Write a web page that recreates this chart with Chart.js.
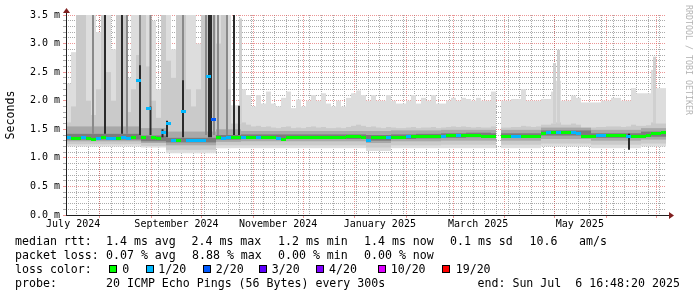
<!DOCTYPE html>
<html><head><meta charset="utf-8">
<script src="https://cdn.jsdelivr.net/npm/chart.js@4.4.1/dist/chart.umd.min.js"></script>
<style>
html,body{margin:0;padding:0;background:#fff;}
#wrap{position:relative;width:697px;height:297px;overflow:hidden;background:#fff;}
canvas{position:absolute;left:0;top:0;}
.t{position:absolute;font-family:"DejaVu Sans Mono",monospace;font-size:11.6px;line-height:14px;white-space:pre;color:#000;}
.box{position:absolute;width:6px;height:6px;border:1px solid #000;top:265px;}
#wm{position:absolute;left:693px;top:5px;transform-origin:0 0;transform:rotate(90deg);font-family:"DejaVu Sans Mono",monospace;font-size:8.3px;line-height:9px;color:#b4b4b4;white-space:pre;}
</style></head><body>
<div id="wrap">
<canvas id="c" width="697" height="297"></canvas>
<div id="wm">RRDTOOL / TOBI OETIKER</div>
<div class="t" style="left:15px;top:234px">median rtt:</div>
<div class="t" style="left:106px;top:234px">1.4 ms avg</div>
<div class="t" style="left:191.5px;top:234px">2.4 ms max</div>
<div class="t" style="left:278px;top:234px">1.2 ms min</div>
<div class="t" style="left:364px;top:234px">1.4 ms now</div>
<div class="t" style="left:450px;top:234px">0.1 ms sd</div>
<div class="t" style="left:529.5px;top:234px">10.6</div>
<div class="t" style="left:579px;top:234px">am/s</div>
<div class="t" style="left:15px;top:248px">packet loss:</div>
<div class="t" style="left:106px;top:248px">0.07 % avg</div>
<div class="t" style="left:192px;top:248px">8.88 % max</div>
<div class="t" style="left:278px;top:248px">0.00 % min</div>
<div class="t" style="left:364px;top:248px">0.00 % now</div>
<div class="t" style="left:15px;top:262px">loss color:</div>
<div class="box" style="left:109px;background:#00ff00"></div>
<div class="t" style="left:122.3px;top:262px">0</div>
<div class="box" style="left:146px;background:#00b8ff"></div>
<div class="t" style="left:158.3px;top:262px">1/20</div>
<div class="box" style="left:202.5px;background:#0059ff"></div>
<div class="t" style="left:215.7px;top:262px">2/20</div>
<div class="box" style="left:259px;background:#5e00ff"></div>
<div class="t" style="left:271.7px;top:262px">3/20</div>
<div class="box" style="left:316px;background:#7e00ff"></div>
<div class="t" style="left:329px;top:262px">4/20</div>
<div class="box" style="left:377.5px;background:#dd00ff"></div>
<div class="t" style="left:390.7px;top:262px">10/20</div>
<div class="box" style="left:442px;background:#ff0000"></div>
<div class="t" style="left:455.7px;top:262px">19/20</div>
<div class="t" style="left:15px;top:276px">probe:</div>
<div class="t" style="left:106px;top:276px">20 ICMP Echo Pings (56 Bytes) every 300s</div>
<div class="t" style="left:477.5px;top:276px">end: Sun Jul  6 16:48:20 2025</div>
</div>
<script>
// ---- time frame (last 360 days ending Sun Jul 6 16:48:20 2025) ----
const START = Date.UTC(2024, 6, 11, 16, 48, 20);
const DAY = 86400000;
const SPAN_DAYS = 360;
const COL_DAYS = 3;      // one column = 3 days (120 columns)
const SEG_COLS = 5;      // coarse arrays: one value per 5 columns (15 days)

// x-axis labels (month, centred half a month after its start)
const labelMonths = [[2024,6],[2024,8],[2024,10],[2025,0],[2025,2],[2025,4]];
const labelTexts = ['July 2024','September 2024','November 2024','January 2025','March 2025','May 2025'];
// y-axis labels
const yLabels = ['0.0 m','0.5 m','1.0 m','1.5 m','2.0 m','2.5 m','3.0 m','3.5 m'];

// ---- per-column values (ms) ----
const smokeTop = [
2.30,2.85,3.30,3.50,3.50,3.50,3.20,3.50,3.50,2.90,
3.50,3.50,2.40,3.50,3.50,3.50,3.50,3.40,2.20,3.50,
3.50,2.90,3.10,3.50,3.50,3.50,3.00,3.50,3.50,3.50,
3.50,3.50,3.50,1.92,1.92,2.20,2.10,1.90,2.10,1.95,
2.16,1.95,1.90,2.05,2.16,1.87,2.02,1.90,2.00,2.10,
2.00,2.13,1.95,1.90,2.00,1.90,2.05,2.13,2.18,2.10,
2.00,2.10,2.00,2.00,2.10,2.00,1.95,1.95,2.00,2.10,
1.95,2.05,2.00,2.10,1.95,1.95,2.00,2.05,2.00,2.05,
2.03,2.00,2.05,2.00,2.00,2.16,null,2.00,2.00,2.03,
2.03,2.20,2.00,2.00,2.00,2.03,2.03,2.16,2.35,2.00,
2.00,2.09,2.05,1.97,1.97,1.97,1.97,2.00,2.00,2.05,
2.05,2.00,2.00,2.22,2.13,2.13,2.13,2.54,2.22,2.22];
const midTop = [
1.62,1.90,3.50,3.50,2.00,1.75,2.20,3.50,2.50,2.00,
3.50,3.50,1.80,2.20,2.80,3.50,2.60,2.00,1.70,3.50,
2.70,2.40,3.50,3.50,2.20,1.90,2.20,3.50,3.50,3.50,
3.00,3.50,2.20,1.60,1.60,1.62,1.58,1.55,1.56,1.54,
1.55,1.53,1.52,1.54,1.55,1.52,1.53,1.52,1.54,1.55,
1.53,1.54,1.52,1.52,1.53,1.52,1.54,1.56,1.58,1.56,
1.54,1.55,1.53,1.52,1.54,1.53,1.52,1.52,1.53,1.54,
1.52,1.53,1.53,1.54,1.52,1.53,1.54,1.55,1.54,1.55,
1.54,1.53,1.54,1.53,1.53,1.55,null,1.53,1.53,1.54,
1.54,1.56,1.55,1.54,1.55,1.58,1.58,1.60,1.62,1.58,
1.58,1.60,1.58,1.52,1.52,1.53,1.54,1.54,1.55,1.55,
1.55,1.54,1.55,1.58,1.56,1.56,1.57,1.62,1.60,1.60];
const median = [
1.35,1.34,1.34,1.35,1.34,1.33,1.34,1.35,1.34,1.34,
1.34,1.35,1.34,1.35,2.35,1.35,1.87,1.35,1.34,1.44,
1.61,1.30,1.30,1.82,1.30,1.30,1.30,1.30,2.42,1.68,
1.35,1.34,1.35,1.36,1.35,1.36,1.36,1.36,1.35,1.36,
1.36,1.36,1.34,1.33,1.35,1.36,1.36,1.36,1.36,1.36,
1.36,1.36,1.36,1.35,1.36,1.36,1.38,1.38,1.37,1.36,
1.31,1.35,1.36,1.36,1.36,1.36,1.36,1.36,1.37,1.37,
1.37,1.37,1.37,1.37,1.37,1.38,1.39,1.40,1.40,1.39,
1.39,1.39,1.39,1.38,1.38,1.38,null,1.38,1.38,1.38,
1.38,1.38,1.38,1.38,1.38,1.43,1.44,1.44,1.44,1.44,
1.44,1.44,1.43,1.37,1.37,1.38,1.39,1.39,1.39,1.39,
1.39,1.39,1.38,1.38,1.38,1.38,1.39,1.43,1.43,1.44];
// packet loss per column (x/20)
const loss = [
1,0,0,1,0,0,1,0,1,1, 0,1,1,0,1,0,1,0,0,1, 1,1,0,1,1,1,1,1,1,2,
0,1,1,0,0,1,0,0,1,0, 0,0,1,0,0,0,0,0,0,0, 0,0,0,0,0,0,0,0,0,0,
1,0,0,0,1,0,0,0,1,0, 0,0,0,0,0,1,0,0,1,0, 0,0,0,0,0,0,0,0,0,1,
1,0,0,0,0,0,1,0,1,0, 0,1,1,0,0,0,1,1,0,0, 0,0,1,0,0,0,0,0,0,0];

// ---- per 15-day segment smoke bands (ms) ----
const outerLow = [1.20,1.20,1.20,1.18,1.08,1.08,1.17,1.17,1.17,1.17,1.17,1.17,1.12,1.17,1.17,1.17,1.17,1.17,1.17,1.20,1.20,1.17,1.17,1.20];
const midLow   = [1.24,1.24,1.24,1.21,1.14,1.14,1.22,1.22,1.22,1.22,1.22,1.22,1.18,1.22,1.22,1.23,1.23,1.23,1.23,1.25,1.25,1.23,1.23,1.25];
const innerLow = [1.29,1.29,1.29,1.26,1.22,1.22,1.28,1.29,1.29,1.29,1.29,1.29,1.26,1.29,1.29,1.30,1.30,1.30,1.30,1.33,1.33,1.30,1.30,1.32];
const innerHigh= [1.55,1.55,1.55,1.52,1.46,1.46,1.50,1.47,1.47,1.47,1.47,1.47,1.47,1.48,1.48,1.49,1.49,1.49,1.49,1.53,1.53,1.49,1.49,1.52];
const coreLow  = [1.32,1.32,1.32,1.29,1.27,1.27,1.32,1.33,1.33,1.33,1.33,1.33,1.30,1.33,1.34,1.35,1.36,1.35,1.35,1.39,1.39,1.35,1.35,1.37];
const coreHigh = [1.42,1.42,1.42,1.39,1.35,1.35,1.40,1.41,1.41,1.41,1.41,1.41,1.40,1.41,1.42,1.43,1.44,1.43,1.43,1.48,1.48,1.43,1.43,1.46];

// ---- narrow smoke streaks: day offset, low, high (ms) ----
const blackDay  = [23.4, 33.6, 44.4, 50.7, 57.9, 60.6, 70.2, 85.8, 87.0, 100.8, 103.8, 337.8];
const blackLow  = [1.42, 1.42, 1.40, 1.40, 1.36, 1.36, 1.36, 1.36, 1.36, 1.40, 1.40, 1.14];
const blackHigh = [3.50, 3.50, 2.62, 1.90, 1.50, 1.65, 2.36, 3.50, 3.50, 3.50, 1.91, 1.42];
const greyDay   = [16.2, 36.6, 44.4, 50.7, 70.2, 84.0, 88.8, 91.2, 96.6];
const greyLow   = [1.42, 1.42, 2.60, 1.90, 2.30, 1.40, 1.40, 1.40, 1.40];
const greyHigh  = [3.50, 3.50, 3.50, 3.50, 3.50, 3.50, 3.50, 3.50, 3.50];
const lightDay  = [104.7, 293.1, 295.5, 353.1];
const lightHigh = [3.44, 2.66, 2.89, 2.77];
const lightLow  = [1.60, 1.60, 1.60, 1.60];

const lossColors = ['#00ff00', '#00b8ff', '#0059ff'];

// ---- build datasets ----
const colX = i => i * COL_DAYS + COL_DAYS / 2;
const seg = i => Math.floor(i / SEG_COLS);
function colBars(loArr, hiArr, loIsSeg, hiIsSeg) {
  return smokeTop.map((t, i) => {
    if (t == null) return {x: colX(i), y: null};
    const lo = loIsSeg ? loArr[seg(i)] : loArr[i];
    const hi = hiIsSeg ? hiArr[seg(i)] : hiArr[i];
    return {x: colX(i), y: [lo, hi]};
  });
}
function streak(days, lo, hi) { return days.map((d, i) => ({x: d, y: [lo[i], hi[i]]})); }

function swatch(color) {
  const c = document.createElement('canvas');
  c.width = 5; c.height = 3;
  const g = c.getContext('2d'); g.fillStyle = color; g.fillRect(0, 0, 5, 3);
  return c;
}
const swatches = lossColors.map(swatch);

const barBase = {type: 'bar', grouped: false, borderWidth: 0, inflateAmount: 0, barThickness: 5};
const datasets = [
  Object.assign({}, barBase, {label: 'outer', order: 10, backgroundColor: '#dddddd', data: colBars(outerLow, smokeTop, true, false)}),
  Object.assign({}, barBase, {label: 'mid', order: 9, backgroundColor: '#cacaca', data: colBars(midLow, midTop, true, false)}),
  Object.assign({}, barBase, {label: 'inner', order: 8, backgroundColor: '#a8a8a8', data: colBars(innerLow, innerHigh, true, true)}),
  Object.assign({}, barBase, {label: 'core', order: 7, backgroundColor: '#7c7c7c', data: colBars(coreLow, coreHigh, true, true)}),
  Object.assign({}, barBase, {label: 'light', order: 6, backgroundColor: '#d0d0d0', barThickness: 3, data: streak(lightDay, lightLow, lightHigh)}),
  Object.assign({}, barBase, {label: 'grey', order: 5, backgroundColor: '#8a8a8a', barThickness: 2, data: streak(greyDay, greyLow, greyHigh)}),
  Object.assign({}, barBase, {label: 'black', order: 4, backgroundColor: '#2a2a2a', barThickness: 2, data: streak(blackDay, blackLow, blackHigh)}),
  {type: 'line', label: 'median', order: 0, showLine: false,
   data: median.map((m, i) => ({x: colX(i), y: m})),
   pointRadius: 3, pointHoverRadius: 3,
   pointStyle: ctx => swatches[loss[ctx.dataIndex] || 0]}
];

// ---- axis ticks ----
const toDay = ms => (ms - START) / DAY;
const xTicks = [];
for (let t = Date.UTC(2024, 6, 18); toDay(t) <= SPAN_DAYS; t += 7 * DAY) xTicks.push({value: toDay(t), kind: 'minor'});
for (let y = 2024, m = 7; ; ) {
  const d = toDay(Date.UTC(y, m, 1));
  if (d > SPAN_DAYS) break;
  xTicks.push({value: d, kind: 'major'});
  m++; if (m > 11) { m = 0; y++; }
}
labelMonths.forEach((ym, i) => xTicks.push({value: toDay(Date.UTC(ym[0], ym[1], 16)), kind: 'label', text: labelTexts[i]}));
const yTicks = [];
for (let k = 0; k <= 35; k++) yTicks.push({value: k / 10, kind: (k % 5 === 0) ? 'major' : 'minor', text: (k % 5 === 0) ? yLabels[k / 5] : ''});

// rrdtool default grid colours
const MINOR = 'rgba(143,143,143,0.75)';
const MAJOR = 'rgba(222,79,79,0.6)';
const NONE = 'rgba(0,0,0,0)';
const gridColor = ctx => { const k = ctx.tick && ctx.tick.kind; return k === 'major' ? MAJOR : (k === 'minor' ? MINOR : NONE); };

const axesPlugin = {
  id: 'axesArrows',
  beforeDatasetsDraw(chart) { chart.ctx.imageSmoothingEnabled = false; },
  afterDraw(chart) {
    const {ctx, chartArea: a} = chart;
    ctx.save();
    ctx.fillStyle = 'rgb(31,31,31)';
    ctx.fillRect(a.left, a.bottom, 669 - a.left, 1);
    ctx.fillRect(a.left, 12, 1, a.bottom - 11);
    ctx.fillStyle = 'rgb(128,31,31)';
    ctx.beginPath(); ctx.moveTo(a.left + 0.5, 8); ctx.lineTo(a.left + 4, 13); ctx.lineTo(a.left - 3, 13); ctx.closePath(); ctx.fill();
    ctx.beginPath(); ctx.moveTo(674, a.bottom + 0.5); ctx.lineTo(669, a.bottom - 3); ctx.lineTo(669, a.bottom + 4); ctx.closePath(); ctx.fill();
    ctx.restore();
  }
};

Chart.defaults.font.family = '"DejaVu Sans Mono", monospace';
Chart.defaults.color = '#000';

new Chart(document.getElementById('c'), {
  type: 'bar',
  data: {datasets},
  plugins: [axesPlugin],
  options: {
    responsive: false, animation: false, devicePixelRatio: 1, events: [],
    layout: {padding: {left: 0, top: 15, right: 31, bottom: 0}},
    plugins: {legend: {display: false}, tooltip: {enabled: false}},
    scales: {
      x: {
        type: 'linear', min: 0, max: SPAN_DAYS, offset: false, z: 1,
        afterBuildTicks: s => { s.ticks = xTicks.map(t => Object.assign({}, t)); },
        afterFit: s => { s.height = 82; },
        grid: {offset: false, color: gridColor, lineWidth: 1, drawTicks: true, tickLength: 3,
               tickColor: ctx => (ctx.tick && ctx.tick.kind === 'major') ? MAJOR : NONE},
        border: {display: false, dash: [1, 1]},
        ticks: {autoSkip: false, maxRotation: 0, minRotation: 0, padding: 0, font: {size: 10},
                callback: (v, i, ticks) => ticks[i].kind === 'label' ? ticks[i].text : ''}
      },
      y: {
        type: 'linear', min: 0, max: 3.5, z: 1,
        afterBuildTicks: s => { s.ticks = yTicks.map(t => Object.assign({}, t)); },
        afterFit: s => { s.width = 66; },
        grid: {color: gridColor, lineWidth: 1, drawTicks: true, tickLength: 3, tickColor: gridColor},
        border: {display: false, dash: [1, 1]},
        ticks: {autoSkip: false, padding: 3, font: {size: 10},
                callback: (v, i, ticks) => ticks[i].text},
        title: {display: true, text: 'Seconds', font: {size: 11.6}, padding: {top: 4, bottom: 0}, color: '#000'}
      }
    }
  }
});
</script>
</body></html>
